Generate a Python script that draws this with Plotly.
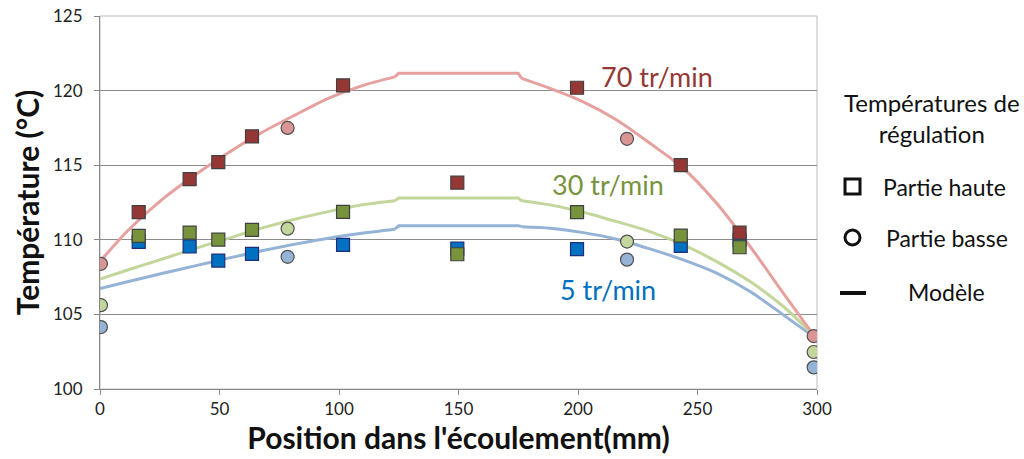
import plotly.graph_objects as go

# ---- data ----
x_haute = [16.2, 37.5, 49.5, 63.6, 101.7, 149.5, 199.6, 243.0, 267.6]
haute_70 = [111.85, 114.06, 115.21, 116.93, 120.35, 113.83, 120.19, 115.01, 110.48]
haute_30 = [110.26, 110.48, 110.01, 110.66, 111.87, 109.03, 111.85, 110.28, 109.5]
haute_5 = [109.86, 109.55, 108.61, 109.06, 109.66, 109.41, 109.37, 109.59, 109.99]

x_basse = [0.4, 78.5, 220.5, 298.6]
basse_70 = [108.39, 117.5, 116.77, 103.55]
basse_30 = [105.62, 110.75, 109.88, 102.48]
basse_5 = [104.15, 108.86, 108.67, 101.45]

x_model = [0, 11.9, 25.8, 39.7, 53.7, 67.6, 81.6, 95.5, 109.5, 123.4, 125, 175, 176.4,
           188.3, 202.2, 216.2, 230.1, 244.1, 258, 272, 285.9, 298.5]
model_70 = [108.55, 110.66, 112.67, 114.34, 115.84, 117.18, 118.36, 119.48, 120.32, 120.92, 121.17,
            121.17, 120.82, 120.15, 119.25, 118.03, 116.47, 114.79, 112.45, 109.55, 106.43, 103.63]
model_30 = [107.36, 107.99, 108.70, 109.41, 110.1, 110.78, 111.38, 111.89, 112.34, 112.62, 112.8,
            112.8, 112.62, 112.34, 111.85, 111.22, 110.55, 109.66, 108.54, 107.2, 105.53, 103.63]
model_5 = [106.73, 107.2, 107.74, 108.25, 108.77, 109.26, 109.71, 110.11, 110.44, 110.71, 110.95,
           110.95, 110.88, 110.78, 110.48, 110.04, 109.39, 108.65, 107.76, 106.53, 104.97, 103.52]

x_ticks = [0, 50, 100, 150, 200, 250, 300]
y_ticks = [100, 105, 110, 115, 120, 125]

FONT = "Lato, 'Open Sans', sans-serif"

L, R, T, B = 100, 207, 16, 70
PW, PH = 1024 - L - R, 459 - T - B


def px(xp):
    return (xp - L) / PW


def py(yp):
    return (459 - B - yp) / PH


fig = go.Figure()

# model lines: rising part (smooth), plateau with small steps (straight), falling part (smooth)
segments = [(0, 10, "spline"), (9, 13, "linear"), (12, len(x_model), "spline")]
for y, c in [(model_5, "#95B3D7"), (model_30, "#C3D69B"), (model_70, "#E6A09E")]:
    for a, b, shape in segments:
        line = dict(color=c, width=3, shape=shape)
        if shape == "spline":
            line["smoothing"] = 0.8
        fig.add_trace(go.Scatter(x=x_model[a:b], y=y[a:b], mode="lines", line=line,
                                 showlegend=False, hoverinfo="skip"))

# partie basse (circles)
for y, c in [(basse_5, "#95B3D7"), (basse_30, "#C3D69B"), (basse_70, "#DA9694")]:
    fig.add_trace(go.Scatter(x=x_basse, y=y, mode="markers",
                             marker=dict(symbol="circle", size=13, color=c,
                                         line=dict(color="#505050", width=1.2)),
                             showlegend=False))

# partie haute (squares)
for y, c, lc in [(haute_5, "#0070C0", "#1F2E7A"), (haute_30, "#77933C", "#404040"), (haute_70, "#953735", "#404040")]:
    fig.add_trace(go.Scatter(x=x_haute, y=y, mode="markers",
                             marker=dict(symbol="square", size=13, color=c,
                                         line=dict(color=lc, width=1.2)),
                             showlegend=False))

# series labels
fig.add_annotation(x=233, y=120.97, text="70 tr/min", showarrow=False,
                   font=dict(family=FONT, size=27, color="#953735"))
fig.add_annotation(x=212.6, y=113.68, text="30 tr/min", showarrow=False,
                   font=dict(family=FONT, size=27, color="#77933C"))
fig.add_annotation(x=212.6, y=106.65, text="5 tr/min", showarrow=False,
                   font=dict(family=FONT, size=27, color="#0070C0"))

# custom legend
fig.add_annotation(xref="paper", yref="paper", x=px(932), y=py(118), text="Températures de<br>régulation",
                   showarrow=False, align="center", font=dict(family=FONT, size=24, color="#111"),
                   yanchor="middle", xanchor="center")
fig.add_annotation(xref="paper", yref="paper", x=px(881), y=py(187), text="Partie haute", showarrow=False,
                   font=dict(family=FONT, size=23, color="#111"), xanchor="left", yanchor="middle")
fig.add_annotation(xref="paper", yref="paper", x=px(884), y=py(238), text="Partie basse", showarrow=False,
                   font=dict(family=FONT, size=23, color="#111"), xanchor="left", yanchor="middle")
fig.add_annotation(xref="paper", yref="paper", x=px(906), y=py(292), text="Modèle", showarrow=False,
                   font=dict(family=FONT, size=23, color="#111"), xanchor="left", yanchor="middle")
# legend symbols
fig.add_shape(type="rect", xref="paper", yref="paper", x0=px(845), x1=px(860),
              y0=py(194), y1=py(179), line=dict(color="#111", width=3))
fig.add_shape(type="circle", xref="paper", yref="paper", x0=px(845), x1=px(860),
              y0=py(245), y1=py(230), line=dict(color="#111", width=3))
fig.add_shape(type="line", xref="paper", yref="paper", x0=px(840), x1=px(866),
              y0=py(293), y1=py(293), line=dict(color="#111", width=4))

# plot-area border
fig.add_shape(type="rect", xref="paper", yref="paper", x0=0, x1=1, y0=0, y1=1,
              line=dict(color="#BBBBBB", width=1), layer="below")

fig.update_layout(
    width=1024, height=459,
    margin=dict(l=L, r=R, t=T, b=B),
    paper_bgcolor="white", plot_bgcolor="white",
    font=dict(family=FONT, size=17, color="#222"),
    showlegend=False,
)
fig.update_xaxes(range=[0, 300], tickvals=x_ticks, ticks="outside", ticklen=5, tickcolor="#888",
                 showline=True, linecolor="#888", linewidth=1, showgrid=False, zeroline=False,
                 tickfont=dict(size=17), automargin=False,
                 title=dict(text="<b>Position dans l'écoulement(mm)</b>", font=dict(size=30, color="#111"), standoff=0))
fig.update_yaxes(range=[100, 125], tickvals=y_ticks, ticks="outside", ticklen=5, tickcolor="#888",
                 showline=True, linecolor="#888", linewidth=1, showgrid=True, gridcolor="#8C8C8C",
                 gridwidth=1, zeroline=False, tickfont=dict(size=17), automargin=False,
                 ticklabelstandoff=8,
                 title=dict(text="<b>Température (°C)</b>", font=dict(size=30, color="#111"), standoff=4))

fig.write_html("out.html", config={"displayModeBar": False},
               post_script="document.body.style.margin='0';")
